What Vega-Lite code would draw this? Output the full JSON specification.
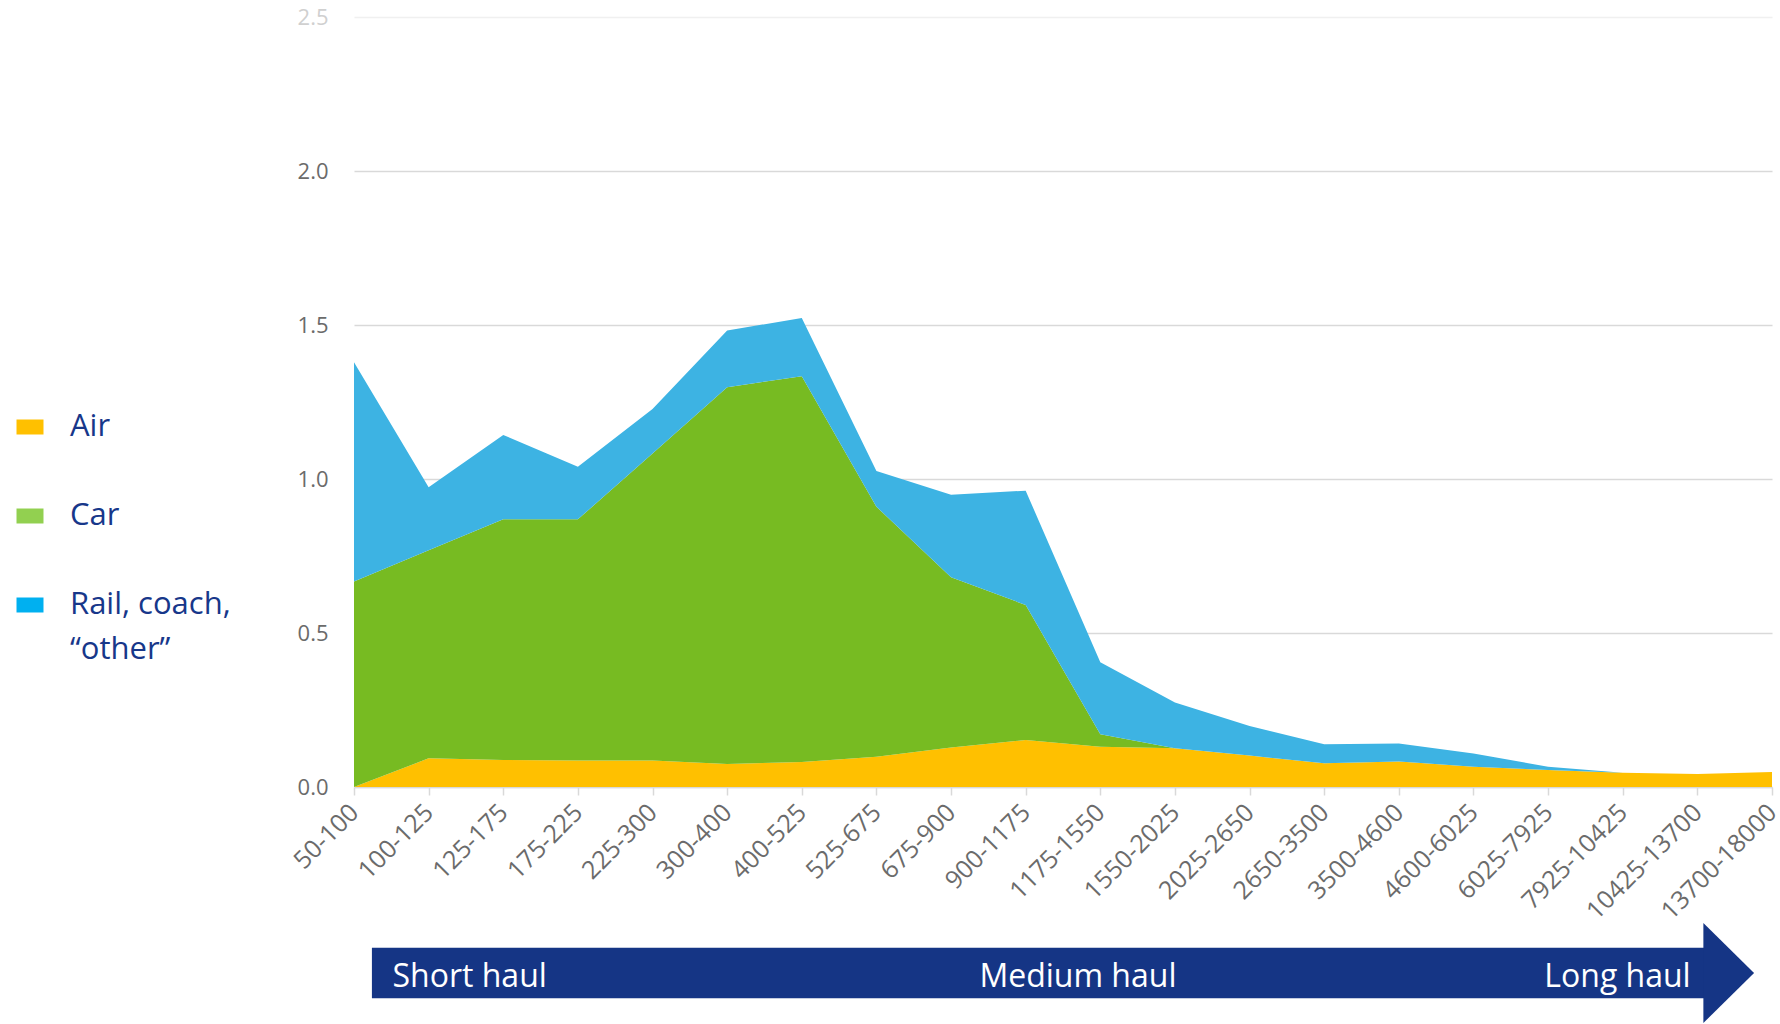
{
  "$schema": "https://vega.github.io/schema/vega-lite/v6.json",
  "background": "white",
  "padding": {"left": 9, "top": 6, "right": 0, "bottom": 0},
  "bounds": "flush",
  "spacing": 136,
  "config": {"view": {"stroke": null}, "font": "Open Sans"},
  "resolve": {"scale": {"x": "independent", "y": "independent"}},
  "datasets": {
    "modes": [
      {"distance": "50-100", "mode": "Air", "value": 0},
      {"distance": "50-100", "mode": "Car", "value": 0.667},
      {"distance": "50-100", "mode": "Rail, coach, “other”", "value": 0.712},
      {"distance": "100-125", "mode": "Air", "value": 0.093},
      {"distance": "100-125", "mode": "Car", "value": 0.676},
      {"distance": "100-125", "mode": "Rail, coach, “other”", "value": 0.204},
      {"distance": "125-175", "mode": "Air", "value": 0.088},
      {"distance": "125-175", "mode": "Car", "value": 0.781},
      {"distance": "125-175", "mode": "Rail, coach, “other”", "value": 0.274},
      {"distance": "175-225", "mode": "Air", "value": 0.086},
      {"distance": "175-225", "mode": "Car", "value": 0.783},
      {"distance": "175-225", "mode": "Rail, coach, “other”", "value": 0.171},
      {"distance": "225-300", "mode": "Air", "value": 0.086},
      {"distance": "225-300", "mode": "Car", "value": 0.997},
      {"distance": "225-300", "mode": "Rail, coach, “other”", "value": 0.144},
      {"distance": "300-400", "mode": "Air", "value": 0.075},
      {"distance": "300-400", "mode": "Car", "value": 1.223},
      {"distance": "300-400", "mode": "Rail, coach, “other”", "value": 0.184},
      {"distance": "400-525", "mode": "Air", "value": 0.081},
      {"distance": "400-525", "mode": "Car", "value": 1.253},
      {"distance": "400-525", "mode": "Rail, coach, “other”", "value": 0.189},
      {"distance": "525-675", "mode": "Air", "value": 0.098},
      {"distance": "525-675", "mode": "Car", "value": 0.812},
      {"distance": "525-675", "mode": "Rail, coach, “other”", "value": 0.116},
      {"distance": "675-900", "mode": "Air", "value": 0.128},
      {"distance": "675-900", "mode": "Car", "value": 0.553},
      {"distance": "675-900", "mode": "Rail, coach, “other”", "value": 0.268},
      {"distance": "900-1175", "mode": "Air", "value": 0.153},
      {"distance": "900-1175", "mode": "Car", "value": 0.438},
      {"distance": "900-1175", "mode": "Rail, coach, “other”", "value": 0.371},
      {"distance": "1175-1550", "mode": "Air", "value": 0.131},
      {"distance": "1175-1550", "mode": "Car", "value": 0.040},
      {"distance": "1175-1550", "mode": "Rail, coach, “other”", "value": 0.234},
      {"distance": "1550-2025", "mode": "Air", "value": 0.126},
      {"distance": "1550-2025", "mode": "Car", "value": 0},
      {"distance": "1550-2025", "mode": "Rail, coach, “other”", "value": 0.148},
      {"distance": "2025-2650", "mode": "Air", "value": 0.102},
      {"distance": "2025-2650", "mode": "Car", "value": 0},
      {"distance": "2025-2650", "mode": "Rail, coach, “other”", "value": 0.096},
      {"distance": "2650-3500", "mode": "Air", "value": 0.077},
      {"distance": "2650-3500", "mode": "Car", "value": 0},
      {"distance": "2650-3500", "mode": "Rail, coach, “other”", "value": 0.062},
      {"distance": "3500-4600", "mode": "Air", "value": 0.083},
      {"distance": "3500-4600", "mode": "Car", "value": 0},
      {"distance": "3500-4600", "mode": "Rail, coach, “other”", "value": 0.058},
      {"distance": "4600-6025", "mode": "Air", "value": 0.066},
      {"distance": "4600-6025", "mode": "Car", "value": 0},
      {"distance": "4600-6025", "mode": "Rail, coach, “other”", "value": 0.043},
      {"distance": "6025-7925", "mode": "Air", "value": 0.055},
      {"distance": "6025-7925", "mode": "Car", "value": 0},
      {"distance": "6025-7925", "mode": "Rail, coach, “other”", "value": 0.011},
      {"distance": "7925-10425", "mode": "Air", "value": 0.046},
      {"distance": "7925-10425", "mode": "Car", "value": 0},
      {"distance": "7925-10425", "mode": "Rail, coach, “other”", "value": 0},
      {"distance": "10425-13700", "mode": "Air", "value": 0.042},
      {"distance": "10425-13700", "mode": "Car", "value": 0},
      {"distance": "10425-13700", "mode": "Rail, coach, “other”", "value": 0},
      {"distance": "13700-18000", "mode": "Air", "value": 0.049},
      {"distance": "13700-18000", "mode": "Car", "value": 0},
      {"distance": "13700-18000", "mode": "Rail, coach, “other”", "value": 0}
    ],
    "arrow": [{"x": 0.24, "x2": 18.12, "y": -0.506, "y2": 0.506}],
    "head": [{"x": 18.42, "y": 0}],
    "haul": [
      {"label": "Short haul", "x": 1.55, "y": -0.27},
      {"label": "Medium haul", "x": 9.70, "y": -0.27},
      {"label": "Long haul", "x": 16.93, "y": -0.27}
    ]
  },
  "vconcat": [
    {
      "width": 1418,
      "height": 770,
      "data": {"name": "modes"},
      "mark": {"type": "area", "interpolate": "linear"},
      "encoding": {
        "x": {
          "field": "distance",
          "type": "ordinal",
          "sort": null,
          "scale": {"type": "point", "padding": 0},
          "axis": {
            "title": null,
            "labelAngle": -45,
            "labelAlign": "right",
            "labelBaseline": "middle",
            "labelFont": "Open Sans",
            "labelFontSize": 25,
            "labelColor": "#6b6b6b",
            "labelPadding": 13,
            "tickSize": 8,
            "tickColor": "#d9d9d9",
            "tickWidth": 1.5,
            "domainColor": "#d9d9d9",
            "domainWidth": 1.5,
            "grid": false
          }
        },
        "y": {
          "field": "value",
          "type": "quantitative",
          "stack": "zero",
          "scale": {"domain": [0, 2.5], "nice": false},
          "axis": {
            "title": null,
            "values": [0, 0.5, 1, 1.5, 2, 2.5],
            "format": ".1f",
            "domain": false,
            "ticks": false,
            "labelFont": "Open Sans",
            "labelFontSize": 22,
            "labelPadding": 26,
            "labelColor": {"condition": {"test": "datum.value === 2.5", "value": "#d0d0d0"}, "value": "#6b6b6b"},
            "gridColor": {"condition": {"test": "datum.value === 2.5", "value": "#f0f0f0"}, "value": "#d9d9d9"},
            "gridWidth": 1.5
          }
        },
        "order": {"field": "mode", "type": "nominal", "sort": "ascending"},
        "color": {
          "field": "mode",
          "type": "nominal",
          "scale": {
            "domain": ["Air", "Car", "Rail, coach, “other”"],
            "range": ["#FFC000", "#77BB22", "#3DB3E3"]
          },
          "legend": {
            "orient": "none",
            "legendX": -345,
            "legendY": 389,
            "title": null,
            "direction": "vertical",
            "padding": 0,
            "symbolType": "M-1,0L1,0",
            "symbolSize": 729,
            "symbolStrokeWidth": 15,
            "labelFont": "Open Sans",
            "labelFontSize": 31,
            "labelColor": "#17378A",
            "labelOffset": 19,
            "labelLimit": 400,
            "rowPadding": 29,
            "labelExpr": "indexof(datum.label, 'Rail') === 0 ? ['Rail, coach,', '“other”'] : datum.label",
            "encode": {
              "symbols": {"update": {"stroke": {"signal": "datum.value === 'Air' ? '#FFC000' : datum.value === 'Car' ? '#92D050' : '#00B0F0'"}, "strokeWidth": {"value": 15}, "strokeCap": {"value": "butt"}}},
              "labels": {"update": {"lineHeight": {"value": 45}}}
            }
          }
        }
      }
    },
    {
      "width": 1418,
      "height": 100,
      "layer": [
        {
          "data": {"name": "arrow"},
          "mark": {"type": "rect", "fill": "#153585"},
          "encoding": {
            "x": {"field": "x", "type": "quantitative", "scale": {"domain": [0, 19], "nice": false, "zero": false}, "axis": null},
            "x2": {"field": "x2"},
            "y": {"field": "y", "type": "quantitative", "scale": {"domain": [-1, 1], "nice": false}, "axis": null},
            "y2": {"field": "y2"}
          }
        },
        {
          "data": {"name": "head"},
          "mark": {"type": "point", "shape": "M-0.507,-1L0.507,0L-0.507,1Z", "size": 10000, "filled": true, "fill": "#153585", "opacity": 1, "strokeWidth": 0},
          "encoding": {
            "x": {"field": "x", "type": "quantitative"},
            "y": {"field": "y", "type": "quantitative"}
          }
        },
        {
          "data": {"name": "haul"},
          "mark": {"type": "text", "font": "Open Sans", "fontSize": 32, "color": "white", "align": "center", "baseline": "alphabetic"},
          "encoding": {
            "x": {"field": "x", "type": "quantitative"},
            "y": {"field": "y", "type": "quantitative"},
            "text": {"field": "label"}
          }
        }
      ]
    }
  ]
}
